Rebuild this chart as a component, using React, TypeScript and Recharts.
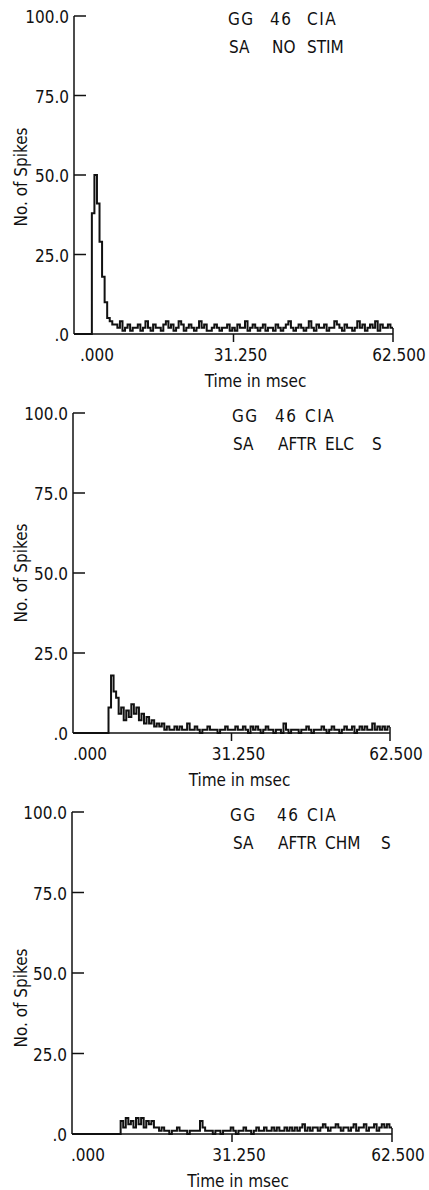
import React from "react";
import { LineChart, Line, XAxis, YAxis } from "recharts";

// spike counts per 0.5 ms bin, 0 .. 62.5 msec
const BIN = 0.5;

const noStim = [
  0, 0, 0, 0, 0, 0, 0,
  38, 50, 41, 29, 18, 10, 5, 4, 3,
  3, 2, 4, 1, 2, 3, 1, 2, 2, 3, 1, 2, 4, 2, 1, 3, 2, 2, 1, 3,
  4, 2, 3, 1, 2, 4, 3, 1, 2, 3, 2, 1, 2, 4, 2, 3, 1, 1, 2, 3,
  2, 1, 2, 2, 3, 1, 2, 1, 3, 2, 2, 4, 1, 2, 3, 2, 1, 2, 3, 1,
  2, 2, 1, 3, 2, 1, 2, 3, 4, 2, 1, 2, 3, 2, 1, 2, 4, 2, 1, 3,
  2, 2, 3, 1, 2, 2, 4, 3, 2, 1, 3, 2, 2, 1, 2, 4, 2, 3, 1, 2,
  3, 2, 4, 1, 3, 2, 2, 3, 2,
];

const afterElec = [
  0, 0, 0, 0, 0, 0, 0, 0, 0, 0, 0, 0, 0, 0,
  8, 18, 13, 11, 6, 8, 4, 7, 5, 9, 6, 8, 4, 6, 3, 5, 3, 4, 2, 3, 2, 3,
  1, 2, 1, 1, 2, 1, 2, 1, 1, 3,
  1, 1, 2, 1, 0, 1, 1, 2, 1, 1,
  1, 0, 1, 1, 2, 1, 1, 1, 2, 1,
  1, 2, 1, 0, 2, 1, 2, 1, 0, 1,
  2, 1, 1, 0, 1, 1, 0, 3, 1, 0,
  1, 1, 1, 0, 1, 1, 2, 1, 0, 1,
  1, 1, 2, 1, 0, 1, 2, 1, 1, 0,
  1, 2, 1, 1, 2, 0, 1, 2, 1, 2,
  1, 1, 3, 1, 2, 1, 2, 1, 2,
];

const afterChem = [
  0, 0, 0, 0, 0, 0, 0, 0, 0, 0, 0, 0, 0, 0, 0, 0, 0, 0, 0,
  4, 2, 5, 3, 4, 2, 5, 3, 5, 2, 4, 3, 4, 2,
  2, 1, 2, 1, 1, 0, 1, 1, 2, 1,
  1, 1, 0, 1, 1, 1, 1, 4, 2, 1,
  1, 1, 0, 1, 1, 0, 1, 1, 1, 2,
  1, 0, 1, 1, 2, 1, 1, 0, 1, 2,
  1, 1, 2, 1, 1, 2, 1, 2, 1, 1,
  2, 1, 2, 1, 2, 1, 2, 3, 1, 2,
  1, 2, 2, 1, 2, 3, 2, 1, 2, 2,
  3, 2, 1, 2, 2, 1, 2, 3, 1, 2,
  2, 3, 1, 2, 2, 3, 1, 2, 3, 2,
  3, 2,
];

const yTicks = [0, 25, 50, 75, 100];
const yTickLabels = [".0", "25.0", "50.0", "75.0", "100.0"];
const xTicks = [0, 31.25, 62.5];
const xTickLabels = [".000", "31.250", "62.500"];

const titleLine1 = ["GG", "46", "CIA"];
const titles2 = [
  ["SA", "NO", "STIM"],
  ["SA", "AFTR", "ELC", "S"],
  ["SA", "AFTR", "CHM", "S"],
];
const series = [noStim, afterElec, afterChem];

// layout of each panel on the page
const panels = [
  { top: 0, plotH: 318, left: 74, right: 393, zeroDx: 23, xLabDx: 22, yLabDy: 2, t1: [228, 270, 307], t2: [229, 272, 307] },
  { top: 397, plotH: 320, left: 73, right: 390, zeroDx: 17, xLabDx: 8, yLabDy: 0, t1: [232, 275, 305], t2: [233, 278, 325, 372] },
  { top: 796, plotH: 322, left: 72, right: 392, zeroDx: 16, xLabDx: 6, yLabDy: 25, t1: [230, 277, 307], t2: [233, 278, 325, 381] },
];

const FONT = '"DejaVu Sans Condensed", "Liberation Sans Narrow", "DejaVu Sans", sans-serif';
const INK = "#111";
const W = 429;
const TOP = 16;
const XAXIS_H = 60;

function toRows(values: number[]) {
  const rows = values.map((v, i) => ({ t: i * BIN, v }));
  rows.push({ t: 62.5, v: values[values.length - 1] });
  return rows;
}

function YTick(props: any) {
  const { x, y, payload } = props;
  const idx = yTicks.indexOf(payload.value);
  return (
    <g>
      <line x1={x} y1={y} x2={x + 12} y2={y} stroke={INK} strokeWidth={1.5} />
      <text x={x - 5} y={y + 7} textAnchor="end" fontSize={17} fontFamily={FONT} fill={INK}>
        {yTickLabels[idx]}
      </text>
    </g>
  );
}

function makeXTick(zeroDx: number) {
  return function XTick(props: any) {
    const { x, y, payload } = props;
    const idx = xTicks.indexOf(payload.value);
    const dx = idx === 0 ? zeroDx : idx === 1 ? 7 : 6;
    return (
      <g>
        {idx > 0 && (
          <line x1={x} y1={idx === 2 ? y - 6 : y} x2={x} y2={y + 8} stroke={INK} strokeWidth={1.5} />
        )}
        <text x={x + dx} y={y + 27} textAnchor="middle" fontSize={17} fontFamily={FONT} fill={INK}>
          {xTickLabels[idx]}
        </text>
      </g>
    );
  };
}

function Panel({ idx }: { idx: number }) {
  const p = panels[idx];
  const data = toRows(series[idx]);
  const h = TOP + p.plotH + XAXIS_H;
  return (
    <div style={{ position: "absolute", top: p.top, left: 0, width: W, height: h }}>
      <LineChart width={W} height={h} data={data} margin={{ top: TOP, right: W - p.right, left: 0, bottom: 0 }}>
        <XAxis
          dataKey="t"
          type="number"
          domain={[0, 62.5]}
          ticks={xTicks}
          interval={0}
          height={XAXIS_H}
          tickSize={0}
          tickMargin={0}
          tickLine={false}
          axisLine={{ stroke: INK, strokeWidth: 1.5 }}
          tick={makeXTick(p.zeroDx)}
          label={{
            content: ({ viewBox }: any) => (
              <text
                x={viewBox.x + viewBox.width / 2 + p.xLabDx}
                y={viewBox.y + 53}
                textAnchor="middle"
                fontSize={17}
                fontFamily={FONT}
                fill={INK}
              >
                Time in msec
              </text>
            ),
          }}
        />
        <YAxis
          type="number"
          domain={[0, 100]}
          ticks={yTicks}
          interval={0}
          width={p.left}
          tickSize={0}
          tickMargin={0}
          tickLine={false}
          axisLine={{ stroke: INK, strokeWidth: 1.5 }}
          tick={YTick}
          label={{
            content: ({ viewBox }: any) => {
              const cy = viewBox.y + viewBox.height / 2 + p.yLabDy;
              return (
                <text
                  x={27}
                  y={cy}
                  transform={`rotate(-90 27 ${cy})`}
                  textAnchor="middle"
                  fontSize={17}
                  fontFamily={FONT}
                  fill={INK}
                >
                  No. of Spikes
                </text>
              );
            },
          }}
        />
        <Line
          type="stepAfter"
          dataKey="v"
          stroke={INK}
          strokeWidth={2}
          dot={false}
          isAnimationActive={false}
        />
      </LineChart>
      <svg width={W} height={70} style={{ position: "absolute", left: 0, top: 0, pointerEvents: "none" }}>
        <text y={TOP + 9} fontSize={17} fontFamily={FONT} fill={INK} letterSpacing={1.5}>
          {titleLine1.map((w, i) => (
            <tspan key={i} x={p.t1[i]}>{w + (i < titleLine1.length - 1 ? " " : "")}</tspan>
          ))}
        </text>
        <text y={TOP + 37} fontSize={17} fontFamily={FONT} fill={INK}>
          {titles2[idx].map((w, i) => (
            <tspan key={i} x={p.t2[i]}>{w + (i < titles2[idx].length - 1 ? " " : "")}</tspan>
          ))}
        </text>
      </svg>
    </div>
  );
}

export default function App() {
  return (
    <div style={{ position: "absolute", left: 0, top: 0, width: W, height: 1190, background: "#fff" }}>
      <Panel idx={0} />
      <Panel idx={1} />
      <Panel idx={2} />
    </div>
  );
}
